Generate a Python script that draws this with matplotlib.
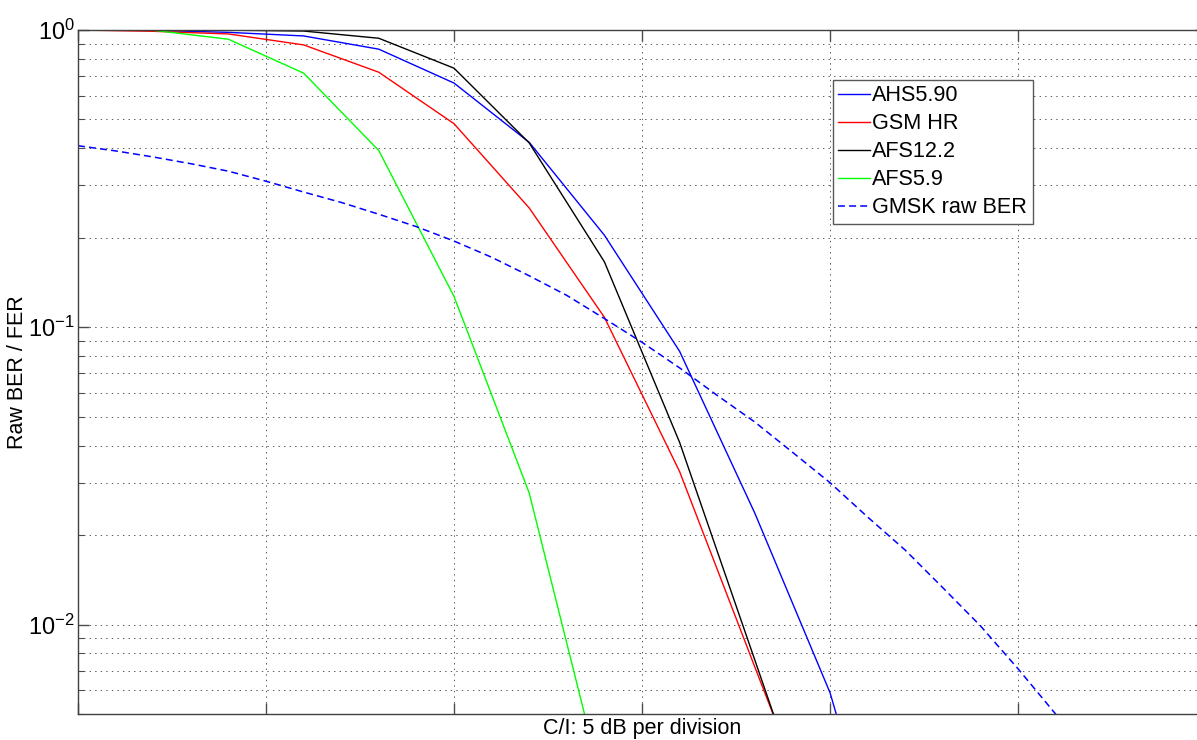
import matplotlib
matplotlib.use("Agg")
import matplotlib.pyplot as plt
from matplotlib.ticker import FixedLocator, NullFormatter, FixedFormatter

plt.rcParams['font.family'] = ['Liberation Sans', 'DejaVu Sans']
plt.rcParams['mathtext.fontset'] = 'custom'
plt.rcParams['mathtext.rm'] = 'Liberation Sans'
plt.rcParams['mathtext.it'] = 'Liberation Sans'
plt.rcParams['lines.scale_dashes'] = False

# C/I in dB (5 dB per division)
ci_codec = [0, 2, 4, 6, 8, 10, 12, 14, 16, 18, 20, 22]
ahs590 = [1.0, 0.997, 0.982, 0.955, 0.862, 0.663, 0.419, 0.204, 0.083, 0.0237, 0.0059, 0.0008]
ci_hr = [0, 2, 4, 6, 8, 10, 12, 14, 16, 18, 20]
gsm_hr = [1.0, 0.99, 0.97, 0.891, 0.721, 0.484, 0.252, 0.108, 0.0327, 0.0072, 0.0016]
afs122 = [1.0, 1.0, 0.999, 0.992, 0.938, 0.744, 0.417, 0.166, 0.041, 0.0076, 0.0014]
ci_afs59 = [0, 2, 4, 6, 8, 10, 12, 14]
afs59 = [1.0, 0.998, 0.931, 0.716, 0.393, 0.127, 0.0277, 0.0027]

ci_raw = list(range(0, 28))
gmsk_raw = [0.408, 0.392, 0.374, 0.355, 0.335, 0.310, 0.285, 0.263, 0.240, 0.218,
            0.195, 0.172, 0.149, 0.128, 0.107, 0.089, 0.073, 0.059, 0.048, 0.038,
            0.030, 0.023, 0.0178, 0.0133, 0.0099, 0.0071, 0.0050, 0.0034]

labels = ['AHS5.90', 'GSM HR', 'AFS12.2', 'AFS5.9', 'GMSK raw BER']
x_ticks = [0, 5, 10, 15, 20, 25, 30]
y_major = [0.01, 0.1, 1.0]
y_major_labels = [r'$10^{-2}$', r'$10^{-1}$', r'$10^{0}$']

W, H = 1197, 740
fig = plt.figure(figsize=(W / 100, H / 100), dpi=100)
ax = fig.add_axes([78 / W, 26 / H, (1206 - 78) / W, 684 / H])

ax.plot(ci_codec, ahs590, color='#0000ff', lw=1.0, label=labels[0])
ax.plot(ci_hr, gsm_hr, color='#ff0000', lw=1.0, label=labels[1])
ax.plot(ci_hr, afs122, color='#000000', lw=1.0, label=labels[2])
ax.plot(ci_afs59, afs59, color='#00ff00', lw=1.0, label=labels[3])
ax.plot(ci_raw, gmsk_raw, color='#0000ff', lw=1.1, dashes=(5, 3), label=labels[4])

ax.set_yscale('log')
ax.set_xlim(0, 30)
ax.set_ylim(0.005, 1.0)

ax.xaxis.set_major_locator(FixedLocator(x_ticks))
ax.xaxis.set_major_formatter(NullFormatter())
ax.yaxis.set_major_locator(FixedLocator(y_major))
ax.yaxis.set_major_formatter(FixedFormatter(y_major_labels))
minors = [m * d for d in (0.001, 0.01, 0.1) for m in range(2, 10)]
ax.yaxis.set_minor_locator(FixedLocator(minors))
ax.yaxis.set_minor_formatter(NullFormatter())

ax.tick_params(which='both', direction='in', top=True, right=True, colors='0.3',
               labelcolor='black')
ax.tick_params(which='major', length=8, width=1.0, labelsize=17, pad=2.2)
ax.tick_params(which='minor', length=4.3, width=0.8)

gstyle = dict(linestyle=(0, (1, 3)), color='0.35', linewidth=0.7)
ax.grid(True, which='both', axis='y', **gstyle)
ax.grid(True, which='major', axis='x', **gstyle)

for s in ax.spines.values():
    s.set_color('0.25')
    s.set_linewidth(1.0)

ax.set_ylabel('Raw BER / FER', fontsize=15.5)
ax.yaxis.set_label_coords(-0.0445, 0.5)
ax.set_xlabel('C/I: 5 dB per division', fontsize=15.5, va='bottom')
ax.xaxis.set_label_coords(0.5, -0.0365)

leg = ax.legend(loc='upper left', bbox_to_anchor=(833 / W, 1 - 80 / H),
                bbox_transform=fig.transFigure, fontsize=15.6, fancybox=False,
                framealpha=1.0, edgecolor='0.35', handlelength=1.45,
                handletextpad=0.12, borderpad=0.25, labelspacing=0.32,
                borderaxespad=0.0)
leg.get_frame().set_linewidth(1.0)

fig.savefig('out.png', dpi=100)
